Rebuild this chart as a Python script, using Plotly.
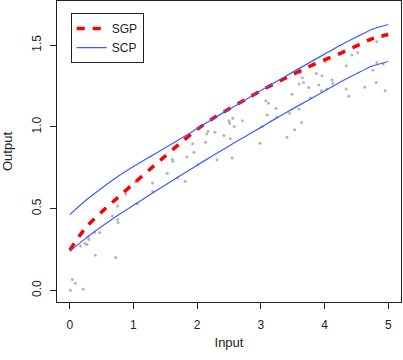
import plotly.graph_objects as go

# Grid for fitted curves
x_grid = [0, 0.25, 0.5, 0.75, 1.0, 1.25, 1.5, 1.75, 2.0, 2.25, 2.5, 2.75,
          3.0, 3.25, 3.5, 3.75, 4.0, 4.25, 4.5, 4.75, 5.0]
sgp_mean = [0.246, 0.383, 0.479, 0.566, 0.652, 0.738, 0.822, 0.905, 0.985, 1.052,
            1.11, 1.165, 1.221, 1.272, 1.32, 1.368, 1.41, 1.45, 1.495, 1.54, 1.565]
scp_upper = [0.463, 0.55, 0.625, 0.695, 0.757, 0.815, 0.872, 0.93, 0.99, 1.05,
             1.107, 1.163, 1.222, 1.279, 1.335, 1.39, 1.445, 1.50, 1.55, 1.597, 1.626]
scp_lower = [0.238, 0.318, 0.39, 0.458, 0.52, 0.583, 0.645, 0.705, 0.765, 0.825,
             0.883, 0.94, 0.997, 1.055, 1.11, 1.165, 1.22, 1.275, 1.325, 1.372, 1.40]

# Observed data points
obs_x = [0.01, 0.04, 0.09, 0.21, 0.17, 0.24, 0.27, 0.29, 0.30, 0.39, 0.47, 0.40,
         0.72, 0.67, 0.75, 0.76, 0.75, 0.88, 1.06, 1.03, 1.30, 1.30, 0.93, 1.53,
         1.61, 1.62, 1.69, 1.81, 1.84, 1.95, 1.93, 2.01, 2.13, 2.15, 2.17, 2.28,
         2.42, 2.50, 2.51, 2.56, 2.58, 2.52, 2.71, 2.31, 2.55, 2.99, 3.08, 3.12,
         3.10, 3.24, 3.25, 3.02, 3.49, 3.45, 3.60, 3.64, 3.53, 3.41, 3.60, 3.67,
         3.62, 3.65, 3.75, 3.80, 3.87, 3.96, 3.91, 3.95, 4.04, 3.78, 4.12, 4.13,
         4.01, 4.34, 4.34, 4.38, 4.43, 4.52, 4.72, 4.82, 4.90, 4.82, 4.92, 4.76,
         4.63, 4.81, 4.95]
obs_y = [0.00, 0.067, 0.043, 0.006, 0.272, 0.287, 0.28, 0.327, 0.311, 0.354, 0.354, 0.215,
         0.201, 0.455, 0.433, 0.415, 0.516, 0.59, 0.53, 0.665, 0.657, 0.605, 0.636, 0.717,
         0.80, 0.788, 0.687, 0.668, 0.815, 0.845, 0.896, 0.768, 0.906, 0.957, 0.973, 0.967,
         0.947, 1.038, 1.022, 1.052, 1.002, 0.927, 1.038, 0.799, 0.809, 0.90, 1.16, 1.144,
         1.073, 1.113, 1.058, 1.002, 1.20, 1.083, 1.11, 1.026, 0.982, 0.937, 1.262, 1.272,
         1.333, 1.30, 1.241, 1.374, 1.327, 1.313, 1.256, 1.221, 1.232, 1.177, 1.287, 1.266,
         1.398, 1.374, 1.232, 1.187, 1.44, 1.455, 1.532, 1.52, 1.552, 1.394, 1.384, 1.347,
         1.242, 1.272, 1.221]

x_ticks = [0, 1, 2, 3, 4, 5]
y_ticks = [0.0, 0.5, 1.0, 1.5]

FONT = "Liberation Sans, Arial, Helvetica, sans-serif"

fig = go.Figure()
fig.add_trace(go.Scatter(x=obs_x, y=obs_y, mode="markers", showlegend=False,
                         marker=dict(size=3, color="#b4b4b4", symbol="circle")))
fig.add_trace(go.Scatter(x=x_grid, y=sgp_mean, mode="lines", name="SGP",
                         line=dict(color="#ff0000", width=3.5, dash="8px,8px", shape="spline",
                                   smoothing=0.8)))
fig.add_trace(go.Scatter(x=x_grid, y=scp_upper, mode="lines", name="SCP",
                         line=dict(color="#3d5cff", width=1.2, shape="spline", smoothing=0.8)))
fig.add_trace(go.Scatter(x=x_grid, y=scp_lower, mode="lines", showlegend=False,
                         line=dict(color="#3d5cff", width=1.2, shape="spline", smoothing=0.8)))

axis_common = dict(showline=True, mirror=True, linecolor="#222", linewidth=1,
                   ticks="outside", ticklen=6, tickcolor="#222", showgrid=False,
                   zeroline=False, tickfont=dict(size=12, color="#222", family=FONT))

fig.update_xaxes(range=[-0.2, 5.2], tickvals=x_ticks, ticktext=[str(v) for v in x_ticks],
                 ticklabelstandoff=6,
                 title=dict(text="Input", font=dict(size=13, color="#222", family=FONT), standoff=6),
                 **axis_common)
fig.update_yaxes(range=[-0.0713, 1.770], tickvals=y_ticks, ticktext=["%.1f" % v for v in y_ticks],
                 tickangle=-90, ticklabelstandoff=4,
                 title=dict(text="Output", font=dict(size=13, color="#222", family=FONT), standoff=14),
                 **axis_common)

fig.update_layout(
    width=403, height=360,
    margin=dict(l=57, r=2, t=1, b=58, autoexpand=False),
    plot_bgcolor="white", paper_bgcolor="white",
    font=dict(family=FONT, size=12, color="#222"),
    legend=dict(x=0.04, y=0.96, xanchor="left", yanchor="top",
                bordercolor="#222", borderwidth=1, bgcolor="white",
                font=dict(size=12, family=FONT, color="#222"),
                tracegroupgap=0, itemwidth=30),
)

fig.write_html("out.html", config={"displayModeBar": False},
               post_script="document.body.style.margin='0';document.body.style.overflow='hidden';")
